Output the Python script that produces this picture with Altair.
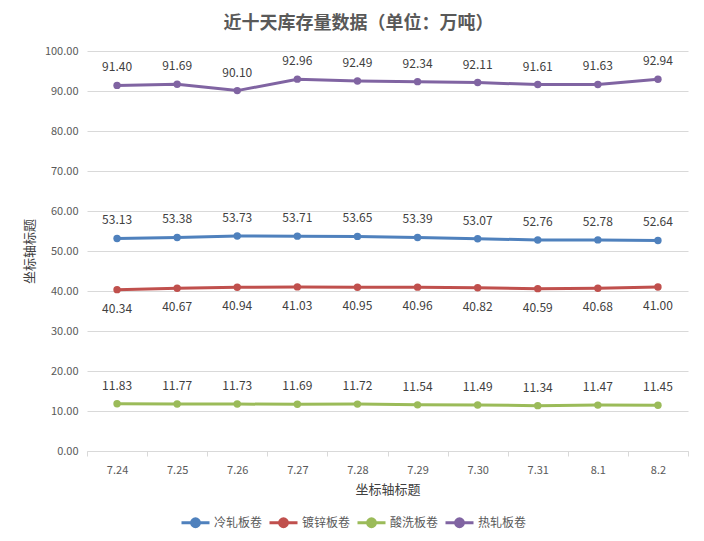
import altair as alt
import pandas as pd

dates = ["7.24", "7.25", "7.26", "7.27", "7.28", "7.29", "7.30", "7.31", "8.1", "8.2"]
series_names = ["冷轧板卷", "镀锌板卷", "酸洗板卷", "热轧板卷"]
cold = [53.13, 53.38, 53.73, 53.71, 53.65, 53.39, 53.07, 52.76, 52.78, 52.64]
galv = [40.34, 40.67, 40.94, 41.03, 40.95, 40.96, 40.82, 40.59, 40.68, 41.00]
pickle = [11.83, 11.77, 11.73, 11.69, 11.72, 11.54, 11.49, 11.34, 11.47, 11.45]
hot = [91.40, 91.69, 90.10, 92.96, 92.49, 92.34, 92.11, 91.61, 91.63, 92.94]
colors = ["#4F81BD", "#C0504D", "#9BBB59", "#8064A2"]

rows = []
for name, vals in zip(series_names, [cold, galv, pickle, hot]):
    for d, v in zip(dates, vals):
        rows.append({"date": d, "series": name, "value": v})
df = pd.DataFrame(rows)

FONT = "Noto Sans CJK SC"
GRAY = "#595959"

x = alt.X("date:N", sort=dates, title="坐标轴标题",
          axis=alt.Axis(labelAngle=0, tickBand="extent", grid=False,
                        domainColor="#D9D9D9", tickColor="#D9D9D9", tickSize=5,
                        labelPadding=8, titlePadding=8, labelFontSize=11,
                        titleFontSize=13, labelColor=GRAY, titleColor="#404040",
                        titleFontWeight="normal"))
y = alt.Y("value:Q", scale=alt.Scale(domain=[0, 100]), title="坐标轴标题",
          axis=alt.Axis(values=list(range(0, 101, 10)), format=".2f", domain=False,
                        ticks=False, gridColor="#D9D9D9", labelPadding=9,
                        labelFontSize=11, labelColor=GRAY, titleFontSize=13,
                        titleColor="#404040", titleFontWeight="normal", titlePadding=8))

legend_symbol = "M-1,0L1,0M-0.28,0A0.28,0.28 0 1,0 0.28,0A0.28,0.28 0 1,0 -0.28,0Z"
color = alt.Color("series:N", scale=alt.Scale(domain=series_names, range=colors),
                  sort=series_names, title=None,
                  legend=alt.Legend(orient="none", direction="horizontal",
                                    legendX=93, legendY=456,
                                    symbolType=legend_symbol, symbolSize=784,
                                    symbolStrokeWidth=3, labelFontSize=12,
                                    labelColor=GRAY, columnPadding=0,
                                    labelOffset=3, labelLimit=60))

base = alt.Chart(df)
lines = base.mark_line(strokeWidth=3, point=alt.OverlayMarkDef(size=55, filled=True)).encode(
    x=x, y=y, color=color)

labels_up = base.transform_filter(alt.datum.series != "镀锌板卷").mark_text(
    dy=-18, fontSize=12, color="#404040").encode(
    x=x, y=y, text=alt.Text("value:Q", format=".2f"))
labels_down = base.transform_filter(alt.datum.series == "镀锌板卷").mark_text(
    dy=19, fontSize=12, color="#404040").encode(
    x=x, y=y, text=alt.Text("value:Q", format=".2f"))

chart = alt.layer(lines, labels_up, labels_down).properties(
    width=601, height=400,
    autosize=alt.AutoSizeParams(type="none"),
    padding={"left": 79, "top": 43, "right": 8, "bottom": 82},
    title=alt.TitleParams("近十天库存量数据（单位：万吨）", fontSize=18, color=GRAY,
                          fontWeight="bold", anchor="middle", frame="group",
                          dx=-29, offset=12, font=FONT),
).configure(font=FONT).configure_view(stroke=None)

chart.save("out.html", embed_options={"renderer": "svg", "actions": False})
